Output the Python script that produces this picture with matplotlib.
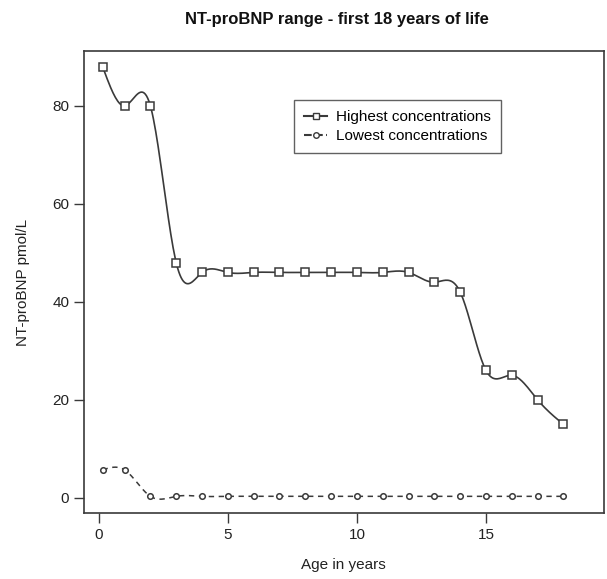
import numpy as np
import matplotlib
matplotlib.use("Agg")
import matplotlib.pyplot as plt

plt.rcParams['font.family'] = ['Liberation Sans', 'DejaVu Sans']

# data
age = [0.15, 1, 2, 3, 4, 5, 6, 7, 8, 9, 10, 11, 12, 13, 14, 15, 16, 17, 18]
highest = [88, 80, 80, 48, 46, 46, 46, 46, 46, 46, 46, 46, 46, 44, 42, 26, 25, 20, 15]
lowest = [5.7, 5.7, 0.3, 0.3, 0.3, 0.3, 0.3, 0.3, 0.3, 0.3, 0.3, 0.3, 0.3, 0.3, 0.3, 0.3, 0.3, 0.3, 0.3]


def smooth(x, y, n=400):
    # natural cubic spline, like R's spline()
    x = np.asarray(x, float)
    y = np.asarray(y, float)
    m = len(x)
    h = np.diff(x)
    A = np.zeros((m, m))
    b = np.zeros(m)
    A[0, 0] = 1
    A[-1, -1] = 1
    for i in range(1, m - 1):
        A[i, i - 1] = h[i - 1]
        A[i, i] = 2 * (h[i - 1] + h[i])
        A[i, i + 1] = h[i]
        b[i] = 6 * ((y[i + 1] - y[i]) / h[i] - (y[i] - y[i - 1]) / h[i - 1])
    M = np.linalg.solve(A, b)
    xs = np.linspace(x[0], x[-1], n)
    k = np.clip(np.searchsorted(x, xs) - 1, 0, m - 2)
    t1 = x[k + 1] - xs
    t0 = xs - x[k]
    hk = h[k]
    ys = (M[k] * t1**3 + M[k + 1] * t0**3) / (6 * hk) \
        + (y[k] / hk - M[k] * hk / 6) * t1 + (y[k + 1] / hk - M[k + 1] * hk / 6) * t0
    return xs, ys


fig = plt.figure(figsize=(6.07, 5.79), dpi=100)
ax = fig.add_axes([0.138, 0.114, 0.857, 0.798])

col = '#3a3a3a'
xs, ys = smooth(age, highest)
ax.plot(xs, ys, color=col, lw=1.2)
ax.plot(age, highest, 's', mfc='white', mec=col, ms=5.2, mew=1.1)
xs, ys = smooth(age, lowest)
ax.plot(xs, ys, color=col, lw=1.1, ls=(0, (3.5, 3)))
ax.plot(age, lowest, 'o', mfc='white', mec=col, ms=4, mew=1.1)

# legend handles
ax.plot([], [], '-s', color=col, mfc='white', mec=col, ms=5, label='Highest concentrations')
ax.plot([], [], '--o', color=col, mfc='white', mec=col, ms=4, label='Lowest concentrations')
handles, labels = ax.get_legend_handles_labels()
leg = ax.legend(handles[-2:], labels[-2:], loc='upper left', bbox_to_anchor=(0.405, 0.893),
                frameon=True, fancybox=False, fontsize=11, handlelength=1.5,
                borderpad=0.65, labelspacing=0.3, handletextpad=0.6, borderaxespad=0)
leg.get_frame().set_edgecolor(col)
leg.get_frame().set_linewidth(1.0)

ax.set_xlim(-0.58, 19.57)
ax.set_ylim(-3.1, 91.2)
ax.set_xticks([0, 5, 10, 15])
ax.set_yticks([0, 20, 40, 60, 80])
ax.tick_params(direction='out', length=7, width=1, colors=col, labelsize=11, labelcolor='#222222')
for s in ax.spines.values():
    s.set_color(col)
    s.set_linewidth(1.2)

ax.set_xlabel('Age in years', fontsize=11, labelpad=12, color='#222222')
ax.set_ylabel('NT-proBNP pmol/L', fontsize=11, labelpad=16, color='#222222')
fig.suptitle('NT-proBNP range - first 18 years of life', x=0.555, y=0.98,
             fontsize=12, fontweight='bold', color='#111111')

fig.savefig('out.png', dpi=100)
